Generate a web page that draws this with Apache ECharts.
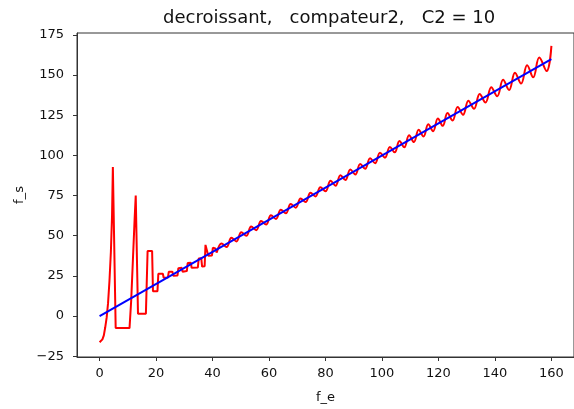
<!DOCTYPE html>
<html>
<head>
<meta charset="utf-8">
<script src="https://cdn.jsdelivr.net/npm/echarts@6/dist/echarts.min.js"></script>
<style>
  html, body { margin: 0; padding: 0; background: #fff; }
  #chart { width: 574px; height: 409px; }
</style>
</head>
<body>
<div id="chart"></div>
<script>
// Tick labels
var xTicks = [0, 20, 40, 60, 80, 100, 120, 140, 160];
var yTicks = [-25, 0, 25, 50, 75, 100, 125, 150, 175];

// Reference line (blue)
var blueX = [0, 160];
var blueY = [0, 160];

// Red curve, start-up part (sharp steps)
var redEarlyX = [0, 0.5, 1, 1.5, 2, 2.5, 3, 3.5, 4, 4.4, 4.7, 5.3, 5.7, 10.6, 11.2, 11.8, 12.4, 12.8, 13.3, 13.6, 16.4, 17.0, 18.6, 18.9, 20.5, 20.8, 22.4, 22.7, 24.2, 24.5, 25.8, 26.1, 27.6, 27.9, 29.1, 29.4, 30.9, 31.2, 32.3, 32.6, 34.8, 35.1, 36.0, 36.3, 37.2, 37.5, 38.2, 38.5, 39.8, 40.1, 41.0, 41.5];
var redEarlyY = [-16.3, -15.5, -14.5, -12, -7, -1, 8, 22, 40, 62, 92.8, 92.8, -7.5, -7.5, 10, 35, 60, 75, 75, 1.5, 1.5, 40.5, 40.5, 15.5, 15.5, 26.3, 26.3, 23.8, 24.0, 27.5, 27.6, 25.0, 25.3, 29.8, 30.0, 27.6, 28.0, 33.0, 33.2, 30.0, 30.2, 35.8, 36.0, 30.8, 31.0, 44.3, 44.3, 37.5, 37.7, 42.5, 42.0, 39.5];

// Red curve, oscillating part (peaks and troughs)
var redOscX = [41.5, 43.2, 44.95, 46.7, 48.45, 50.2, 51.95, 53.7, 55.45, 57.2, 58.95, 60.7, 62.45, 64.2, 65.95, 67.7, 69.45, 71.2, 72.95, 74.7, 76.45, 78.2, 80.0, 81.8, 83.55, 85.3, 87.05, 88.8, 90.55, 92.3, 94.05, 95.8, 97.55, 99.3, 101.05, 102.8, 104.5, 106.2, 107.9, 109.6, 111.3, 113.0, 114.7, 116.4, 118.1, 119.8, 121.5, 123.2, 125.0, 126.8, 128.7, 130.6, 132.6, 134.6, 136.65, 138.7, 140.8, 142.9, 145.0, 147.1, 149.25, 151.4, 153.55, 155.7, 158.3, 160.0];
var redOscY = [39.5, 45.2, 42.95, 48.7, 46.45, 52.2, 49.95, 55.7, 53.45, 59.2, 56.95, 62.7, 60.45, 66.2, 63.95, 69.7, 67.45, 73.2, 70.95, 76.7, 74.45, 80.2, 77.7, 84.2, 81.15, 87.7, 84.65, 91.2, 88.15, 94.7, 91.65, 98.2, 95.15, 101.7, 98.6, 105.3, 101.9, 108.9, 105.1, 112.5, 108.3, 116.0, 111.7, 119.4, 115.1, 122.9, 118.4, 126.4, 121.7, 130.1, 125.3, 134.1, 129.0, 138.3, 132.9, 142.5, 136.8, 147.1, 140.7, 151.5, 144.7, 156.1, 148.6, 160.9, 152.5, 168.2];

function zip(xs, ys) { return xs.map(function (x, i) { return [x, ys[i]]; }); }
function fmt(v) { return String(v).replace('-', '\u2212'); }

var FONT = 'DejaVu Sans';
var AX = '#333';

var chart = echarts.init(document.getElementById('chart'), null, { renderer: 'canvas' });
chart.setOption({
  animation: false,
  backgroundColor: '#fff',
  title: {
    text: 'decroissant,   compateur2,   C2 = 10',
    left: 163,
    top: 9,
    padding: 0,
    textStyle: { fontFamily: FONT, fontSize: 18, fontWeight: 'normal', color: '#111' }
  },
  grid: {
    left: 77, top: 33, width: 503, height: 326,
    show: true, borderColor: AX, borderWidth: 1, backgroundColor: 'transparent'
  },
  xAxis: {
    type: 'value', min: -8, max: 168,
    name: 'f_e', nameLocation: 'middle', nameGap: 34,
    nameTextStyle: { fontFamily: FONT, fontSize: 13, color: '#111' },
    axisLine: { show: true, onZero: false, lineStyle: { color: AX, width: 1 } },
    axisTick: { show: true, length: 4, customValues: xTicks, lineStyle: { color: AX } },
    axisLabel: { customValues: xTicks, margin: 10, fontFamily: FONT, fontSize: 13, color: '#111', formatter: fmt },
    splitLine: { show: false }
  },
  yAxis: {
    type: 'value', min: -25.5, max: 176.2,
    name: 'f_s', nameLocation: 'middle', nameGap: 50, nameRotate: 90,
    nameTextStyle: { fontFamily: FONT, fontSize: 13, color: '#111' },
    axisLine: { show: true, onZero: false, lineStyle: { color: AX, width: 1 } },
    axisTick: { show: true, length: 4, customValues: yTicks, lineStyle: { color: AX } },
    axisLabel: { customValues: yTicks, margin: 13, fontFamily: FONT, fontSize: 13, color: '#111', formatter: fmt },
    splitLine: { show: false }
  },
  series: [
    {
      type: 'line', data: zip(redEarlyX, redEarlyY), showSymbol: false, symbol: 'none',
      lineStyle: { color: '#ff0000', width: 2 }, z: 2
    },
    {
      type: 'line', data: zip(redOscX, redOscY), showSymbol: false, symbol: 'none', smooth: 0.4,
      lineStyle: { color: '#ff0000', width: 2 }, z: 2
    },
    {
      type: 'line', data: zip(blueX, blueY), showSymbol: false, symbol: 'none',
      lineStyle: { color: '#0000ff', width: 2 }, z: 3
    }
  ]
});
</script>
</body>
</html>
